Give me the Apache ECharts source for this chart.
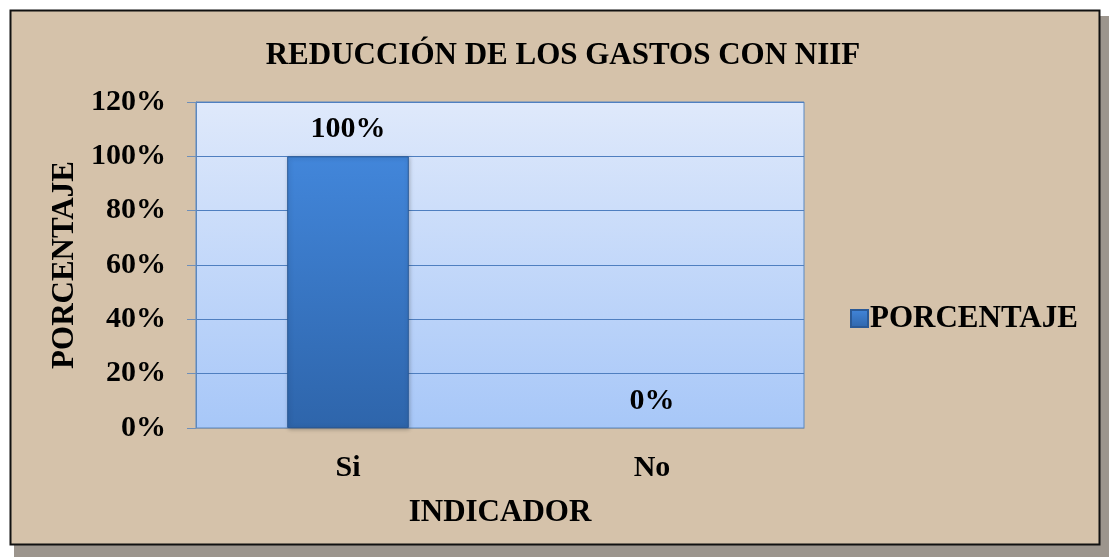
<!DOCTYPE html>
<html><head><meta charset="utf-8">
<script src="https://cdn.jsdelivr.net/npm/echarts@6/dist/echarts.min.js"></script>
<style>html,body{margin:0;padding:0;background:#fff}#c{width:1109px;height:557px}</style>
</head><body><div id="c"></div>
<script>
var categories = ['Si', 'No'];
var values = [1.0, 0.0];
var seriesName = 'PORCENTAJE';
var titleText = 'REDUCCIÓN DE LOS GASTOS CON NIIF';
var xName = 'INDICADOR';
var yName = 'PORCENTAJE';

var font = '"Liberation Serif","Times New Roman",serif';
var chart = echarts.init(document.getElementById('c'));
function pct(v){ return Math.round(v*100) + '%'; }
var barData = values.map(function(v){
  return v === 0 ? {value: v, itemStyle: {borderWidth: 0, shadowBlur: 0, shadowOffsetX: 0, shadowOffsetY: 0}} : v;
});
chart.setOption({
  animation: false,
  backgroundColor: '#ffffff',
  graphic: [
    {type:'rect', z:-10, silent:true, shape:{x:1100,y:16,width:9,height:541}, style:{fill:'#9c958d'}},
    {type:'rect', z:-10, silent:true, shape:{x:14,y:545,width:1095,height:12}, style:{fill:'#9c958d'}},
    {type:'rect', z:-9, silent:true, shape:{x:10.5,y:10.5,width:1089,height:534}, style:{fill:'#d5c2aa', stroke:'#111', lineWidth:2}}
  ],
  title: {
    text: titleText, left: 558, top: 35, textAlign: 'center',
    textStyle: {fontFamily: font, fontWeight: 'bold', fontSize: 31, color: '#000'}
  },
  legend: {
    left: 845, top: 298, itemWidth: 17, itemHeight: 17, itemGap: 4,
    icon: 'rect',
    textStyle: {fontFamily: font, fontWeight: 'bold', fontSize: 31, color: '#000', padding:[2,0,0,-3]},
    data: [seriesName]
  },
  grid: {
    left: 196, top: 102, width: 608, height: 326,
    show: true, borderColor: '#5b88c0', borderWidth: 1,
    backgroundColor: {type:'linear', x:0, y:0, x2:0, y2:1, colorStops:[{offset:0,color:'#dfe9fb'},{offset:1,color:'#a7c7f8'}]}
  },
  xAxis: {
    type: 'category', data: categories,
    name: xName, nameLocation: 'middle', nameGap: 69,
    nameTextStyle: {fontFamily: font, fontWeight: 'bold', fontSize: 31, color: '#000'},
    axisLine: {show: true, lineStyle: {color: '#8a96a6', width: 1}},
    axisTick: {show: false},
    axisLabel: {fontFamily: font, fontWeight: 'bold', fontSize: 30, color: '#000', margin: 25}
  },
  yAxis: {
    type: 'value', min: 0, max: 1.2, interval: 0.2,
    name: yName, nameLocation: 'middle', nameGap: 116, nameRotate: 90,
    nameTextStyle: {fontFamily: font, fontWeight: 'bold', fontSize: 31, color: '#000'},
    axisLine: {show: true, lineStyle: {color: '#5b88c0'}},
    axisTick: {show: true, length: 9, lineStyle: {color: '#6f8fb8'}},
    splitLine: {show: true, lineStyle: {color: '#4f7fc0', width: 1.2}},
    axisLabel: {formatter: pct, fontFamily: font, fontWeight: 'bold', fontSize: 30, color: '#000', margin: 30}
  },
  series: [{
    name: seriesName, type: 'bar', data: barData, barWidth: '40%',
    itemStyle: {
      color: {type:'linear', x:0, y:0, x2:0, y2:1, colorStops:[{offset:0,color:'#4286da'},{offset:1,color:'#2e65ab'}]},
      borderColor: '#2a5996', borderWidth: 1,
      shadowColor: 'rgba(0,0,0,0.25)', shadowBlur: 4, shadowOffsetX: 1, shadowOffsetY: 1
    },
    label: {show: true, position: 'top', distance: 12, formatter: function(p){return pct(p.value);},
      fontFamily: font, fontWeight: 'bold', fontSize: 30, color: '#000'}
  }]
});
</script></body></html>
